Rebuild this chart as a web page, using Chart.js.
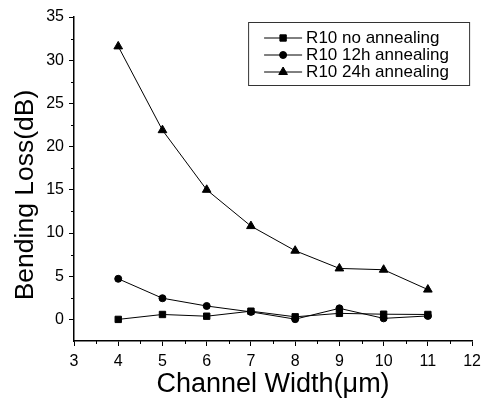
<!DOCTYPE html>
<html>
<head>
<meta charset="utf-8">
<script src="https://cdn.jsdelivr.net/npm/chart.js@4.4.1/dist/chart.umd.min.js"></script>
<style>
  html, body { margin: 0; padding: 0; background: #fff; }
  #wrap { width: 487px; height: 402px; }
</style>
</head>
<body>
<div id="wrap"><canvas id="grafica" width="487" height="402"></canvas></div>
<script>
// Datos
const anchos = [4, 5, 6, 7, 8, 9, 10, 11];
const sinRecocido = [0.0, 0.57, 0.37, 0.95, 0.3, 0.7, 0.6, 0.57];
const recocido12h = [4.7, 2.45, 1.55, 0.87, 0.03, 1.28, 0.12, 0.4];
const recocido24h = [31.6, 21.9, 15.0, 10.8, 7.95, 5.9, 5.75, 3.45];
const nombres = ["R10 no annealing", "R10 12h annealing", "R10 24h annealing"];
const marcadores = ["rect", "circle", "triangle"];
const radios = [4.5, 3.5, 5];

const ticksX = [3, 4, 5, 6, 7, 8, 9, 10, 11, 12];
const ticksY = [0, 5, 10, 15, 20, 25, 30, 35];
const menoresX = [3.5, 4.5, 5.5, 6.5, 7.5, 8.5, 9.5, 10.5, 11.5];
const menoresY = [2.5, 7.5, 12.5, 17.5, 22.5, 27.5, 32.5];
const tituloY = "Bending Loss(dB)";

const FUENTE = "'Liberation Sans', Arial, Helvetica, sans-serif";

function puntos(ys) {
    return anchos.map((x, i) => ({ x: x, y: ys[i] }));
}

const series = [sinRecocido, recocido12h, recocido24h];

// Marcas menores, título del eje Y y leyenda (línea con marcador en medio)
const extras = {
    id: "extras",
    afterDraw(chart) {
        const ctx = chart.ctx;
        const sx = chart.scales.x;
        const sy = chart.scales.y;
        const area = chart.chartArea;
        ctx.save();
        ctx.strokeStyle = "#000";
        ctx.fillStyle = "#000";
        ctx.lineWidth = 1;

        menoresX.forEach(v => {
            const px = Math.round(sx.getPixelForValue(v)) + 0.5;
            ctx.beginPath();
            ctx.moveTo(px, area.bottom);
            ctx.lineTo(px, area.bottom + 3);
            ctx.stroke();
        });
        menoresY.forEach(v => {
            const py = Math.round(sy.getPixelForValue(v)) + 0.5;
            ctx.beginPath();
            ctx.moveTo(area.left, py);
            ctx.lineTo(area.left - 3, py);
            ctx.stroke();
        });

        // Título vertical, algo desplazado hacia abajo como en el original
        ctx.save();
        ctx.translate(33, (area.top + area.bottom) / 2 + 16);
        ctx.rotate(-Math.PI / 2);
        ctx.font = "26.5px " + FUENTE;
        ctx.textAlign = "center";
        ctx.textBaseline = "alphabetic";
        ctx.fillText(tituloY, 0, 0);
        ctx.restore();

        // Leyenda
        const bx = area.right - 224, by = area.top + 5, bw = 221, bh = 63;
        ctx.strokeStyle = "#333";
        ctx.strokeRect(bx + 0.5, by + 0.5, bw, bh);
        ctx.font = "17px " + FUENTE;
        ctx.textBaseline = "middle";
        ctx.textAlign = "left";
        chart.data.datasets.forEach((ds, i) => {
            const fy = by + 16 + i * 17;
            ctx.strokeStyle = "#000";
            ctx.beginPath();
            ctx.moveTo(bx + 16, fy);
            ctx.lineTo(bx + 54, fy);
            ctx.stroke();
            Chart.helpers.drawPoint(ctx, {
                pointStyle: ds.pointStyle,
                radius: ds.pointRadius,
                borderWidth: 1,
                rotation: 0
            }, bx + 35, fy);
            ctx.fillStyle = "#000";
            ctx.fillText(ds.label, bx + 58, fy);
        });
        ctx.restore();
    }
};

const chart = new Chart(document.getElementById("grafica").getContext("2d"), {
    type: "scatter",
    data: {
        datasets: series.map((ys, i) => ({
            label: nombres[i],
            data: puntos(ys),
            showLine: true,
            borderColor: "#000",
            backgroundColor: "#000",
            borderWidth: 1,
            pointStyle: marcadores[i],
            pointRadius: radios[i],
            pointBorderWidth: 1,
            pointHoverRadius: radios[i],
            tension: 0
        }))
    },
    options: {
        responsive: false,
        animation: false,
        layout: { padding: { top: 17, right: 11, left: 0, bottom: 0 } },
        plugins: {
            legend: { display: false },
            tooltip: { enabled: false }
        },
        scales: {
            x: {
                type: "linear",
                min: 3,
                max: 12,
                afterBuildTicks: s => { s.ticks = ticksX.map(v => ({ value: v })); },
                afterFit: s => { s.height = 61; },
                border: { color: "#000", width: 1.5 },
                grid: { drawOnChartArea: false, tickLength: 5, tickColor: "#000", tickWidth: 1 },
                ticks: { color: "#000", padding: 6, maxRotation: 0, font: { size: 16, family: FUENTE } },
                title: {
                    display: true,
                    text: "Channel Width(μm)",
                    color: "#000",
                    padding: { top: 0, bottom: 1.5 },
                    font: { size: 27, family: FUENTE }
                }
            },
            y: {
                type: "linear",
                min: -2.5,
                max: 35,
                afterBuildTicks: s => { s.ticks = ticksY.map(v => ({ value: v })); },
                afterFit: s => { s.width = 74; },
                border: { color: "#000", width: 1.5 },
                grid: { drawOnChartArea: false, tickLength: 5, tickColor: "#000", tickWidth: 1 },
                ticks: { color: "#000", padding: 5, font: { size: 16, family: FUENTE } },
                title: { display: false }
            }
        }
    },
    plugins: [extras]
});
</script>
</body>
</html>
